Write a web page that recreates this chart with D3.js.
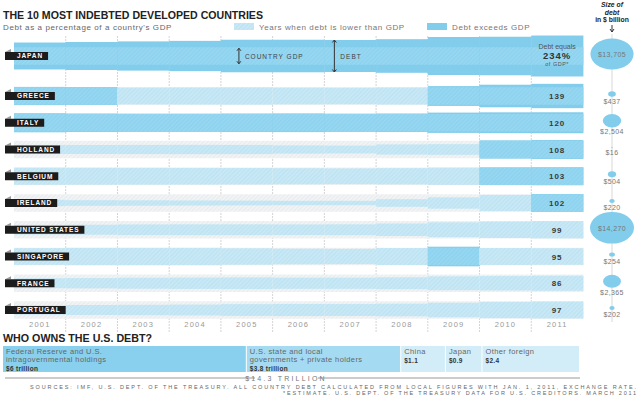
<!DOCTYPE html>
<html>
<head>
<meta charset="utf-8">
<script src="https://cdn.jsdelivr.net/npm/d3@7"></script>
<style>
  body { margin: 0; background: #fff; }
  svg { display: block; font-family: 'Liberation Sans', Arial, sans-serif; }
</style>
</head>
<body>
<div id="chart"></div>
<script>
// data
const years = [2001, 2002, 2003, 2004, 2005, 2006, 2007, 2008, 2009, 2010, 2011]
const countries = ['JAPAN', 'GREECE', 'ITALY', 'HOLLAND', 'BELGIUM', 'IRELAND', 'UNITED STATES', 'SINGAPORE', 'FRANCE', 'PORTUGAL']
const japan = [154, 160, 167, 173, 186, 186, 183, 192, 217, 220, 234]
const greece = [104, 102, 97, 98, 99, 96, 95, 98, 113, 129, 139]
const italy = [109, 106, 104, 104, 106, 107, 104, 106, 116, 119, 120]
const holland = [52, 51, 52, 53, 52, 47, 45, 58, 61, 104, 108]
const belgium = [98, 97, 96, 95, 94, 92, 90, 93, 99, 101, 103]
const ireland = [36, 32, 31, 29, 27, 25, 25, 44, 65, 93, 102]
const unitedStates = [55, 57, 61, 62, 62, 61, 62, 71, 85, 94, 99]
const singapore = [96, 99, 99, 99, 94, 89, 87, 97, 112, 97, 95]
const france = [57, 59, 63, 65, 67, 64, 64, 68, 79, 82, 86]
const portugal = [54, 57, 59, 62, 67, 69, 68, 72, 83, 93, 97]
const ratios = [japan, greece, italy, holland, belgium, ireland, unitedStates, singapore, france, portugal]
const debtBillions = [13705, 437, 2504, 16, 504, 220, 14270, 254, 2365, 202]

const owners = ['Federal Reserve and U.S.|intragovernmental holdings', 'U.S. state and local|governments + private holders', 'China', 'Japan', 'Other foreign']
const ownerTrillions = [6, 3.8, 1.1, 0.9, 2.4]
const ownerLabels = ['$6 trillion', '$3.8 trillion', '$1.1', '$0.9', '$2.4']

const width = 640
const height = 395
const darkBlue = '#82cdec'

const svg = d3.select('#chart').append('svg')
  .attr('width', width)
  .attr('height', height)

// hatch patterns
const defs = svg.append('defs')
function hatch(id, bg, line) {
  const p = defs.append('pattern')
    .attr('id', id)
    .attr('patternUnits', 'userSpaceOnUse')
    .attr('width', 3).attr('height', 3)
    .attr('patternTransform', 'rotate(45)')
  p.append('rect').attr('width', 3).attr('height', 3).attr('fill', bg)
  p.append('line').attr('x1', 0).attr('y1', 0).attr('x2', 0).attr('y2', 3)
    .attr('stroke', line).attr('stroke-width', 1)
}
hatch('gdpGray', '#f1f3f4', '#e0e4e6')
hatch('debtLight', '#c8e8f5', '#b0dcef')
hatch('gdpDark', '#8ed3ef', '#a9ddf2')

// scales
const x = d3.scaleBand().domain(years).range([14, 583])
const yScale = d3.scaleLinear().domain([1, 9]).range([96, 310])
const rowY = i => i === 0 ? 56 : yScale(i)
const h = d3.scaleLinear().domain([0, 100]).range([0, 17.5])
const r = d3.scaleSqrt().domain([0, 14270]).range([0, 22])

// titles
svg.append('text').attr('x', 3).attr('y', 19)
  .attr('font-size', 11.5).attr('font-weight', 'bold').attr('fill', '#222')
  .attr('textLength', 260).attr('lengthAdjust', 'spacingAndGlyphs')
  .text('THE 10 MOST INDEBTED DEVELOPED COUNTRIES')
svg.append('text').attr('x', 3).attr('y', 30)
  .attr('font-size', 8).attr('fill', '#666').attr('letter-spacing', 0.6)
  .text("Debt as a percentage of a country's GDP")

// legend
svg.append('rect').attr('x', 234).attr('y', 23).attr('width', 20).attr('height', 7).attr('fill', 'url(#debtLight)')
svg.append('text').attr('x', 259).attr('y', 30).attr('font-size', 8).attr('fill', '#777').attr('letter-spacing', 0.6)
  .text('Years when debt is lower than GDP')
svg.append('rect').attr('x', 427).attr('y', 23).attr('width', 20).attr('height', 7).attr('fill', darkBlue)
svg.append('text').attr('x', 452).attr('y', 30).attr('font-size', 8).attr('fill', '#777').attr('letter-spacing', 0.6)
  .text('Debt exceeds GDP')

// gridlines
svg.append('g').selectAll('line')
  .data(years.slice(1))
  .enter().append('line')
    .attr('x1', d => x(d)).attr('x2', d => x(d))
    .attr('y1', 36).attr('y2', 332)
    .attr('stroke', '#d4d4d4').attr('stroke-dasharray', '2,1')

// year labels
const xAxis = svg.append('g')
  .attr('transform', 'translate(0, 319)')
  .call(d3.axisBottom(x).tickSize(0).tickFormat(d3.format('d')))
xAxis.select('.domain').remove()
xAxis.selectAll('text')
  .attr('font-family', "'Liberation Sans', Arial, sans-serif")
  .attr('font-size', 7.5).attr('fill', '#9a9a9a').attr('letter-spacing', 1.2)

// country rows
const rows = svg.append('g').selectAll('g.row')
  .data(countries)
  .enter().append('g')
    .attr('class', 'row')
    .attr('transform', (d, i) => `translate(0, ${rowY(i)})`)

const segs = rows.selectAll('g.seg')
  .data((d, i) => years.map((y, j) => ({ year: y, ratio: ratios[i][j] })))
  .enter().append('g')
    .attr('class', 'seg')

// outer band
segs.append('rect')
  .attr('x', d => x(d.year))
  .attr('width', x.bandwidth() + 0.4)
  .attr('y', d => -h(Math.max(d.ratio, 100)) / 2)
  .attr('height', d => h(Math.max(d.ratio, 100)))
  .attr('fill', d => d.ratio >= 100 ? darkBlue : 'url(#gdpGray)')
// inner band
segs.append('rect')
  .attr('x', d => x(d.year))
  .attr('width', x.bandwidth() + 0.4)
  .attr('y', d => -h(Math.min(d.ratio, 100)) / 2)
  .attr('height', d => h(Math.min(d.ratio, 100)))
  .attr('fill', d => d.ratio >= 100 ? 'url(#gdpDark)' : 'url(#debtLight)')

// name tags
rows.append('polygon')
  .attr('points', '5,-4 11,-7 11,-4')
  .attr('fill', '#9a9a9a')
const tagText = rows.append('text')
  .attr('x', 17).attr('y', 2.4)
  .attr('font-size', 6.5).attr('font-weight', 'bold').attr('fill', '#fff')
  .attr('letter-spacing', 0.9)
  .text(d => d)
rows.insert('rect', 'text')
  .attr('x', 5).attr('y', -4).attr('height', 8)
  .attr('width', function(d, i) { return tagText.nodes()[i].getComputedTextLength() + 17 })
  .attr('fill', '#1c1c1c')

// 2011 values
const last = x(2011) + x.bandwidth() / 2
rows.filter((d, i) => i > 0).append('text')
  .attr('x', last).attr('y', 3)
  .attr('text-anchor', 'middle')
  .attr('font-size', 8).attr('font-weight', 'bold').attr('fill', '#3a3a3a').attr('letter-spacing', 1)
  .text((d, i) => ratios[i + 1][10])

// Japan annotation
const jp = svg.append('g').attr('transform', `translate(0, ${rowY(0)})`)
jp.append('text').attr('x', last).attr('y', -7).attr('text-anchor', 'middle')
  .attr('font-size', 7).attr('fill', '#555').text('Debt equals')
jp.append('text').attr('x', last).attr('y', 3).attr('text-anchor', 'middle')
  .attr('font-size', 9.5).attr('font-weight', 'bold').attr('fill', '#333').attr('letter-spacing', 1)
  .text(japan[10] + '%')
jp.append('text').attr('x', last).attr('y', 10).attr('text-anchor', 'middle')
  .attr('font-size', 5.5).attr('fill', '#555').attr('letter-spacing', 0.5).text('of GDP*')

function bracket(bx, half, label) {
  const g = jp.append('g')
  g.append('line').attr('x1', bx).attr('x2', bx).attr('y1', -half).attr('y2', half)
    .attr('stroke', '#333').attr('stroke-width', 1)
  g.selectAll('path').data([-1, 1]).enter().append('path')
    .attr('d', s => `M${bx - 2},${s * (half - 2.5)} L${bx},${s * half} L${bx + 2},${s * (half - 2.5)}`)
    .attr('fill', 'none').attr('stroke', '#333')
  g.append('text').attr('x', bx + 6).attr('y', 2.5)
    .attr('font-size', 6.5).attr('fill', '#444').attr('letter-spacing', 1).text(label)
}
bracket(x(2005) + 18, h(100) / 2 - 1, 'COUNTRY GDP')
bracket(x(2007) + 10, h(japan[6]) / 2, 'DEBT')

// size of debt column
const cx = 612
svg.append('line').attr('x1', cx).attr('x2', cx).attr('y1', 34).attr('y2', 322)
  .attr('stroke', '#d8d8d8')
svg.append('g').selectAll('text')
  .data(['Size of', 'debt', 'in $ billion'])
  .enter().append('text')
    .attr('x', cx).attr('y', (d, i) => 7 + i * 7.5)
    .attr('text-anchor', 'middle').attr('font-size', 6.8).attr('font-weight', 'bold')
    .attr('font-style', (d, i) => i < 2 ? 'italic' : 'normal').attr('fill', '#222')
    .text(d => d)
svg.append('path').attr('d', `M${cx},25 L${cx},32 M${cx - 2},29 L${cx},32 L${cx + 2},29`)
  .attr('stroke', '#333').attr('fill', 'none')

const bubbles = svg.append('g').selectAll('g')
  .data(debtBillions)
  .enter().append('g')
    .attr('transform', (d, i) => `translate(${cx}, ${rowY(i) - 2})`)
bubbles.append('ellipse')
  .attr('rx', d => r(d)).attr('ry', d => r(d) * 0.72)
  .attr('fill', darkBlue)
bubbles.append('text')
  .attr('y', d => r(d) > 15 ? 3 : r(d) * 0.72 + 7)
  .attr('text-anchor', 'middle').attr('font-size', 7).attr('fill', '#777').attr('letter-spacing', 0.4)
  .text(d => '$' + d3.format(',')(d))

// who owns the US debt
svg.append('text').attr('x', 3).attr('y', 342)
  .attr('font-size', 11).attr('font-weight', 'bold').attr('fill', '#222')
  .attr('textLength', 149).attr('lengthAdjust', 'spacingAndGlyphs')
  .text('WHO OWNS THE U.S. DEBT?')

const ownerX = d3.scaleLinear().domain([0, d3.sum(ownerTrillions)]).range([3, 580])
const starts = ownerTrillions.map((d, i) => d3.sum(ownerTrillions.slice(0, i)))
const ownerColors = ['#88d0ee', '#a4dbf2', '#d3edf8', '#d3edf8', '#d3edf8']
const owner = svg.append('g').selectAll('g')
  .data(owners)
  .enter().append('g')
owner.append('rect')
  .attr('x', (d, i) => ownerX(starts[i]))
  .attr('width', (d, i) => ownerX(starts[i] + ownerTrillions[i]) - ownerX(starts[i]) - 1)
  .attr('y', 346).attr('height', 26)
  .attr('fill', (d, i) => ownerColors[i])
owner.each(function(d, i) {
  const g = d3.select(this)
  const lines = d.split('|')
  const tx = ownerX(starts[i]) + 3
  lines.forEach((l, k) => {
    g.append('text').attr('x', tx).attr('y', 354 + k * 8)
      .attr('font-size', 7.5).attr('fill', '#666').attr('letter-spacing', 0.4).text(l)
  })
  const vy = lines.length > 1 ? 370.5 : 363
  g.append('text').attr('x', tx).attr('y', vy)
    .attr('font-size', 6.5).attr('font-weight', 'bold').attr('fill', '#333').attr('letter-spacing', 0.3)
    .text(ownerLabels[i])
})

// total line
svg.append('line').attr('x1', 5).attr('x2', 255).attr('y1', 378).attr('y2', 378).attr('stroke', '#999')
svg.append('line').attr('x1', 318).attr('x2', 580).attr('y1', 378).attr('y2', 378).attr('stroke', '#999')
svg.append('text').attr('x', 286).attr('y', 381).attr('text-anchor', 'middle')
  .attr('font-size', 7).attr('fill', '#777').attr('letter-spacing', 2.2)
  .text('$14.3 TRILLION')

// sources
svg.append('text').attr('x', 30).attr('y', 389)
  .attr('font-size', 5.5).attr('fill', '#666')
  .attr('textLength', 606).attr('lengthAdjust', 'spacing')
  .text('SOURCES: IMF, U.S. DEPT. OF THE TREASURY. ALL COUNTRY DEBT CALCULATED FROM LOCAL FIGURES WITH JAN. 1, 2011, EXCHANGE RATE.')
svg.append('text').attr('x', 283).attr('y', 395)
  .attr('font-size', 5.5).attr('fill', '#666')
  .attr('textLength', 353).attr('lengthAdjust', 'spacing')
  .text('*ESTIMATE. U.S. DEPT. OF THE TREASURY DATA FOR U.S. CREDITORS, MARCH 2011')
</script>
</body>
</html>
